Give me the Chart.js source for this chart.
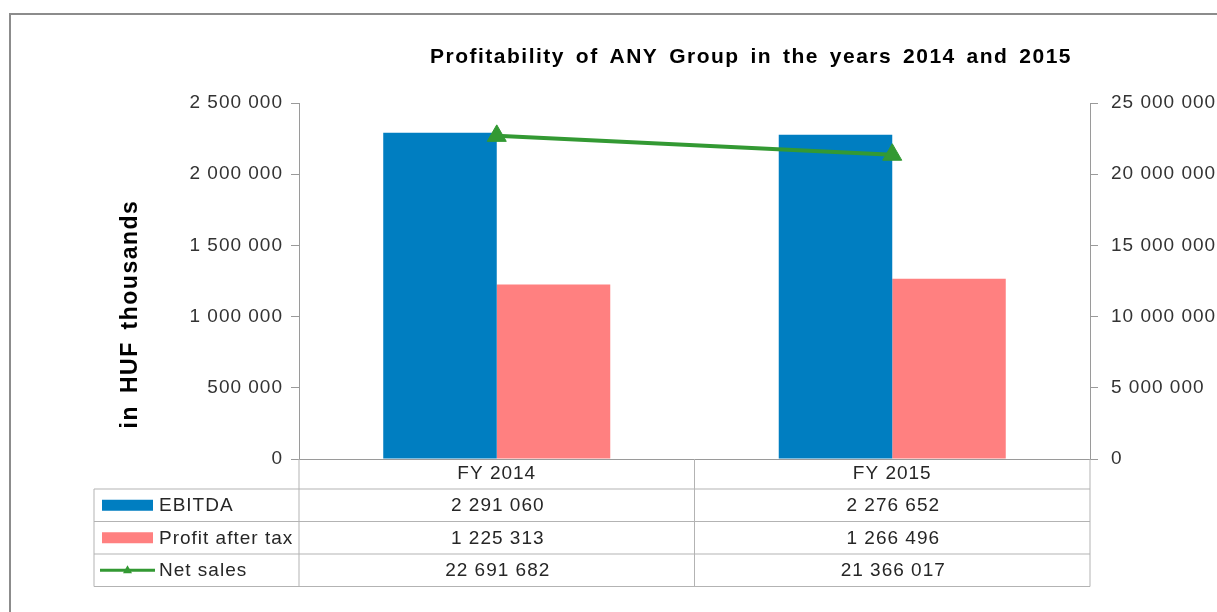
<!DOCTYPE html>
<html>
<head>
<meta charset="utf-8">
<script src="https://cdn.jsdelivr.net/npm/chart.js@4/dist/chart.umd.min.js"></script>
<style>
  body { margin: 0; background: #fff; }
  canvas { display: block; }
</style>
</head>
<body>
<canvas id="myChart" width="1217" height="612"></canvas>
<script>
const categories = ['FY 2014', 'FY 2015'];
const ebitda = [2291060, 2276652];
const profitAfterTax = [1225313, 1266496];
const netSales = [22691682, 21366017];
const seriesNames = ['EBITDA', 'Profit after tax', 'Net sales'];
const titleText = 'Profitability of ANY Group in the years 2014 and 2015';
const yTitleText = 'in HUF thousands';

const COLORS = {
  blue: 'rgb(0, 126, 193)',
  pink: 'rgb(255, 128, 128)',
  green: 'rgb(51, 153, 51)',
  axis: '#9a9a9a',
  text: '#262626',
  table: '#b3b3b3'
};
const FONT = '"Liberation Sans", Arial, sans-serif';
const SPACING = '1px';

// 2 291 060 style
function fmt(v) {
  return String(Math.round(v)).replace(/\B(?=(\d{3})+(?!\d))/g, ' ');
}

const frameAndTable = {
  id: 'frameAndTable',
  beforeDraw(chart) {
    const c = chart.ctx;
    c.letterSpacing = SPACING; // the source renders text a bit spaced out
    c.save();
    c.strokeStyle = '#8c8c8c';
    c.lineWidth = 2;
    c.strokeRect(10, 14, 1400, 800);
    c.restore();
  },
  afterDraw(chart) {
    const c = chart.ctx;
    const area = chart.chartArea;
    const x = chart.scales.x;
    const left = 94;
    const rows = [489, 521.5, 554, 586.5];
    c.save();
    c.strokeStyle = COLORS.table;
    c.lineWidth = 1;
    c.beginPath();
    rows.forEach(r => { c.moveTo(left, r); c.lineTo(area.right, r); });
    c.moveTo(left, rows[0]); c.lineTo(left, rows[3]);
    c.moveTo(area.left, area.bottom); c.lineTo(area.left, rows[3]);
    c.moveTo((area.left + area.right) / 2, area.bottom); c.lineTo((area.left + area.right) / 2, rows[3]);
    c.moveTo(area.right, area.bottom); c.lineTo(area.right, rows[3]);
    c.stroke();

    const values = [ebitda, profitAfterTax, netSales];
    c.font = '19px ' + FONT;
    c.letterSpacing = SPACING;
    c.textBaseline = 'middle';
    for (let i = 0; i < 3; i++) {
      const cy = (rows[i] + rows[i + 1]) / 2;
      // legend swatch
      if (i < 2) {
        c.fillStyle = i === 0 ? COLORS.blue : COLORS.pink;
        c.fillRect(102, cy - 5.5, 51, 11);
      } else {
        c.strokeStyle = COLORS.green;
        c.lineWidth = 3;
        c.beginPath(); c.moveTo(100, cy); c.lineTo(155, cy); c.stroke();
        c.fillStyle = COLORS.green;
        c.beginPath(); c.moveTo(127.5, cy - 5); c.lineTo(132, cy + 3); c.lineTo(123, cy + 3); c.closePath(); c.fill();
      }
      c.fillStyle = COLORS.text;
      c.textAlign = 'left';
      c.fillText(seriesNames[i], 159, cy + 1);
      c.textAlign = 'center';
      values[i].forEach((v, j) => {
        c.fillText(fmt(v), x.getPixelForValue(j) + 1, cy + 1);
      });
    }

    // chart title
    c.font = 'bold 21px ' + FONT;
    c.letterSpacing = '1.5px';
    c.wordSpacing = '3.5px';
    c.fillStyle = '#000';
    c.textAlign = 'center';
    c.fillText(titleText, 751, 57);

    // y axis title
    c.font = 'bold 23px ' + FONT;
    c.wordSpacing = '4px';
    c.translate(131, 314);
    c.rotate(-Math.PI / 2);
    c.fillText(yTitleText, 0, 0);
    c.restore();
  }
};

const ctx = document.getElementById('myChart').getContext('2d');

const myChart = new Chart(ctx, {
  type: 'bar',
  data: {
    labels: categories,
    datasets: [{
      type: 'line',
      label: seriesNames[2],
      data: netSales,
      yAxisID: 'y1',
      borderColor: COLORS.green,
      backgroundColor: COLORS.green,
      borderWidth: 4,
      pointStyle: 'triangle',
      pointRadius: 11,
      pointBorderWidth: 1,
      tension: 0,
      order: 0
    }, {
      label: seriesNames[0],
      data: ebitda,
      yAxisID: 'y',
      backgroundColor: COLORS.blue,
      categoryPercentage: 0.574,
      barPercentage: 1,
      order: 1
    }, {
      label: seriesNames[1],
      data: profitAfterTax,
      yAxisID: 'y',
      backgroundColor: COLORS.pink,
      categoryPercentage: 0.574,
      barPercentage: 1,
      order: 1
    }]
  },
  options: {
    responsive: false,
    animation: false,
    devicePixelRatio: 1,
    layout: { padding: { top: 103, left: 0, right: 0, bottom: 0 } },
    plugins: {
      legend: { display: false },
      title: { display: false },
      tooltip: { enabled: false }
    },
    scales: {
      x: {
        grid: { drawOnChartArea: false, drawTicks: false },
        border: { color: COLORS.axis, width: 1 },
        ticks: { font: { family: FONT, size: 19 }, color: COLORS.text, padding: 3 },
        afterFit: function(scale) { scale.height = 612 - 459; }
      },
      y: {
        position: 'left',
        min: 0,
        max: 2500000,
        grid: { drawOnChartArea: false, tickLength: 8, color: COLORS.axis },
        border: { color: COLORS.axis, width: 1 },
        ticks: {
          stepSize: 500000,
          padding: 8,
          font: { family: FONT, size: 19 },
          color: '#333',
          callback: function(value) { return fmt(value); }
        },
        afterFit: function(scale) { scale.width = 299; }
      },
      y1: {
        position: 'right',
        min: 0,
        max: 25000000,
        grid: { drawOnChartArea: false, tickLength: 8, color: COLORS.axis },
        border: { color: COLORS.axis, width: 1 },
        ticks: {
          stepSize: 5000000,
          padding: 13,
          font: { family: FONT, size: 19 },
          color: '#333',
          callback: function(value) { return fmt(value); }
        },
        afterFit: function(scale) { scale.width = 1217 - 1090; }
      }
    }
  },
  plugins: [frameAndTable]
});
</script>
</body>
</html>
